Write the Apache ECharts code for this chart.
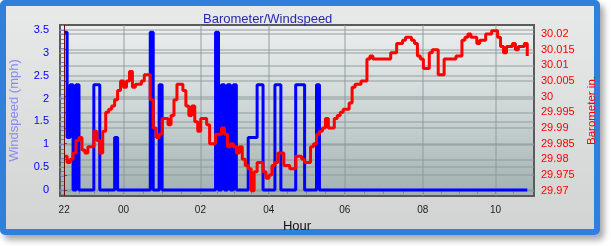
<!DOCTYPE html>
<html><head><meta charset="utf-8">
<script src="https://cdn.jsdelivr.net/npm/echarts@6/dist/echarts.min.js"></script>
<style>
html,body{margin:0;padding:0;background:#fff;width:611px;height:246px;overflow:hidden;}
#frame{position:absolute;left:0;top:0;width:588px;height:223px;border:6px solid #2f7fdc;border-radius:5px;box-shadow:4px 5px 6px rgba(0,0,0,0.35);background:linear-gradient(#e8e9e9,#d2d3d3);}
#chart{position:absolute;left:0;top:0;width:611px;height:246px;}
</style></head><body>
<div id="frame"></div><div id="chart"></div>
<script>
// x positions are log-record numbers; hour labels sit at the record where each hour starts
const xLabels = ['22','00','02','04','06','08','10'];
const xLabelPos = [0, 20, 45.9, 68.9, 94.5, 120.8, 145.3];
const windTicks = [0, 0.5, 1, 1.5, 2, 2.5, 3, 3.5];
const baroTicks = [29.97, 29.975, 29.98, 29.985, 29.99, 29.995, 30, 30.005, 30.01, 30.015, 30.02];

const windspeed = [
 3.45,1.15,2.3,0,2.3, 0,0,0,0,0, 2.3,2.3, 0,0,0,0,0, 1.15,
 0,0,0,0,0,0,0,0,0,0,0, 3.45, 0,0, 2.3,
 0,0,0,0,0,0,0,0,0,0,0,0,0,0,0,0,0,0,
 3.45, 0,2.3,0,2.3,0,2.3, 0,0,0,0, 1.15,1.15,1.15, 2.3,2.3, 0,0,0,0,
 2.3,2.3, 0,0,0,0,0, 2.3,2.3,2.3, 0,0,0,0, 2.3,
 0,0,0,0,0,0,0,0,0,0,0,0,0,0,0,0,0,0,0,0,
 0,0,0,0,0,0,0,0,0,0,0,0,0,0,0,0,0,0,0,0,
 0,0,0,0,0,0,0,0,0,0,0,0,0,0,0,0,0,0,0,0,
 0,0,0,0,0,0,0,0,0,0,0
];

const barometer = [
 29.981,29.979,29.980,29.982,29.986,29.987,29.983,29.982,29.984,29.984,
 29.989,29.986,29.982,29.989,29.995,29.996,29.997,29.999,30.002,30.005,
 30.003,30.005,30.008,30.003,30.004,30.004,30.005,30.007,30.007,29.999,
 29.990,29.987,29.988,29.993,29.993,29.991,29.994,29.999,30.004,30.004,
 30.002,29.997,29.994,29.997,29.992,29.989,29.993,29.993,29.991,29.985,
 29.985,29.988,29.988,29.990,29.988,29.984,29.985,29.984,29.982,29.984,
 29.980,29.978,29.977,29.970,29.976,29.979,29.979,29.976,29.974,29.975,
 29.978,29.979,29.982,29.982,29.978,29.978,29.977,29.977,29.981,29.981,
 29.980,29.979,29.979,29.984,29.985,29.988,29.989,29.990,29.993,29.990,
 29.990,29.993,29.994,29.995,29.996,29.996,29.998,30.003,30.004,30.004,
 30.005,30.005,30.012,30.013,30.012,30.012,30.012,30.012,30.012,30.012,
 30.014,30.014,30.017,30.017,30.018,30.019,30.019,30.018,30.017,30.013,
 30.012,30.009,30.009,30.014,30.015,30.015,30.007,30.007,30.012,30.012,
 30.012,30.012,30.013,30.013,30.018,30.019,30.020,30.019,30.019,30.017,
 30.018,30.018,30.020,30.020,30.021,30.021,30.019,30.016,30.014,30.016,
 30.016,30.017,30.015,30.016,30.016,30.017,30.013
];

const FONT = '"Liberation Sans", Arial, sans-serif';
const X_MIN = -1.4, X_MAX = 158.27;

// half-hour ticks: each two-hour label interval split into four
const xMinor = [];
for (let k = 0; k < xLabelPos.length - 1; k++) {
  const a = xLabelPos[k], d = xLabelPos[k + 1] - a;
  for (let j = 0; j < 4; j++) xMinor.push(a + d * j / 4);
}
const lastD = xLabelPos[xLabelPos.length - 1] - xLabelPos[xLabelPos.length - 2];
xMinor.push(xLabelPos[xLabelPos.length - 1]);
xMinor.push(xLabelPos[xLabelPos.length - 1] + lastD / 4);

const gridLine = { show: true, lineStyle: { color: 'rgba(140,150,150,0.45)', width: 2 } };

const chart = echarts.init(document.getElementById('chart'), null, { renderer: 'canvas' });
chart.setOption({
  backgroundColor: 'transparent',
  animation: false,
  title: {
    text: 'Barometer/Windspeed', left: 198, top: 8,
    textStyle: { fontSize: 13, fontWeight: 'normal', color: '#2828b0', fontFamily: FONT }
  },
  grid: {
    left: 55, right: 77, top: 25, bottom: 50, show: true,
    borderColor: '#5a5a5a', borderWidth: 2,
    backgroundColor: { type: 'linear', x: 0, y: 0, x2: 0, y2: 1,
      colorStops: [{ offset: 0, color: '#eceeee' }, { offset: 0.5, color: '#cdd5d5' }, { offset: 1, color: '#a0b0b0' }] }
  },
  xAxis: [{
    type: 'value', min: X_MIN, max: X_MAX,
    name: 'Hour', nameLocation: 'middle', nameGap: 17,
    nameTextStyle: { fontSize: 13, color: '#1c0a1c', fontFamily: FONT },
    axisLine: { show: false },
    axisTick: { show: true, length: 4, customValues: xMinor, lineStyle: { color: '#8a8a8a' } },
    axisLabel: {
      customValues: xLabelPos, margin: 9, fontSize: 10, color: '#222', fontFamily: FONT,
      formatter: v => { let s = ''; xLabelPos.forEach((p, k) => { if (Math.abs(p - v) < 0.01) s = xLabels[k]; }); return s; }
    },
    splitLine: { show: false }
  }, {
    type: 'value', min: X_MIN, max: X_MAX, position: 'top',
    axisLine: { show: false },
    axisTick: { show: false, customValues: xLabelPos.slice(1) },
    axisLabel: { show: false },
    splitLine: gridLine
  }],
  yAxis: [{
    type: 'value', position: 'left', min: -0.131, max: 3.609, splitNumber: 8,
    name: 'Windspeed (mph)', nameLocation: 'middle', nameGap: 39, nameRotate: 90,
    nameTextStyle: { fontSize: 13, color: '#8a8af2', fontFamily: FONT },
    axisLine: { show: false },
    axisTick: { show: true, length: 5, customValues: windTicks, lineStyle: { color: '#7b7bc0' } },
    minorTick: { show: true, splitNumber: 5, length: 3, lineStyle: { color: '#7b7bc0' } },
    axisLabel: { customValues: windTicks, margin: 11, fontSize: 11, color: '#0000ff', fontFamily: FONT,
      formatter: v => String(v) },
    splitLine: gridLine
  }, {
    type: 'value', position: 'right', min: 29.9683, max: 30.02287,
    name: 'Barometer in.', nameLocation: 'middle', nameGap: 46, nameRotate: 90,
    nameTextStyle: { fontSize: 11.5, color: '#ff0000', fontFamily: FONT },
    axisLine: { show: false },
    axisTick: { show: true, length: 3, customValues: baroTicks, lineStyle: { color: '#555' } },
    axisLabel: { customValues: baroTicks, margin: 7, fontSize: 11, color: '#ff0000', fontFamily: FONT,
      formatter: v => String(parseFloat(v.toFixed(3))) },
    splitLine: gridLine
  }],
  series: [{
    name: 'Windspeed', type: 'line', xAxisIndex: 0, yAxisIndex: 0,
    data: windspeed.map((v, i) => [i, v]), step: 'end', showSymbol: false,
    lineStyle: { color: '#0000ff', width: 3 }, itemStyle: { color: '#0000ff' }, z: 2
  }, {
    name: 'Barometer', type: 'line', xAxisIndex: 0, yAxisIndex: 1,
    data: barometer.map((v, i) => [i, v]), step: 'end', showSymbol: false,
    lineStyle: { color: '#ff0000', width: 3 }, itemStyle: { color: '#ff0000' }, z: 3,
    markLine: { silent: true, symbol: ['none', 'none'], label: { show: false }, animation: false,
      lineStyle: { color: '#6a1010', width: 1, type: 'solid' }, data: [{ xAxis: 0 }] }
  }]
});
</script>
</body></html>
